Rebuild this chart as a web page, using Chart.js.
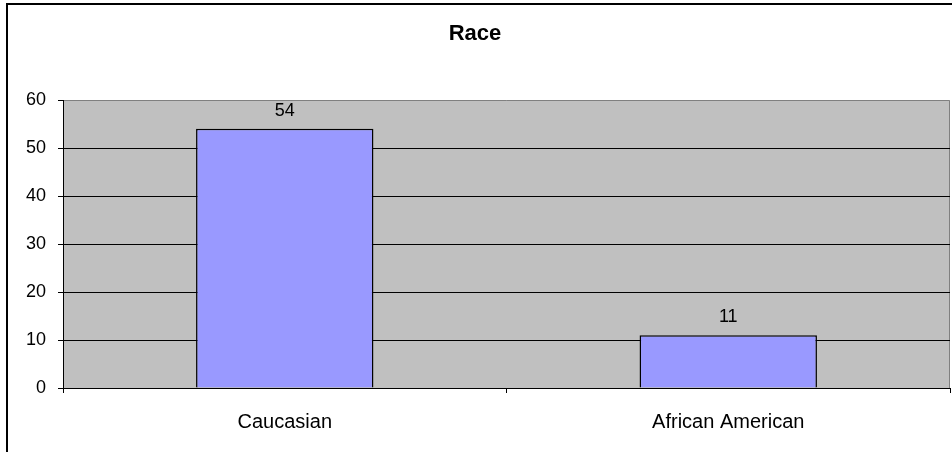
<!DOCTYPE html>
<html lang="en">

<head>
    <meta charset="UTF-8">
    <title>Race</title>
    <script src="https://cdn.jsdelivr.net/npm/chart.js"></script>
    <style>
        body {
            margin: 0;
            background: #fff;
        }
    </style>
</head>

<body>
    <canvas id="raceChart" width="952" height="452"></canvas>

    <script>
        // chart data
        const categories = ['Caucasian', 'African American'];
        const counts = [54, 11];
        const yTicks = [0, 10, 20, 30, 40, 50, 60];

        const fontFamily = '"Liberation Sans", Arial, sans-serif';

        // grey plot background, outer frame and value labels
        const excelLook = {
            id: 'excelLook',
            beforeDraw(chart) {
                const { ctx, chartArea: a } = chart;
                ctx.save();
                ctx.fillStyle = '#fff';
                ctx.fillRect(0, 0, chart.width, chart.height);
                ctx.strokeStyle = '#000';
                ctx.lineWidth = 2;
                ctx.strokeRect(7, 4, chart.width + 20, chart.height + 20);
                ctx.fillStyle = '#c0c0c0';
                ctx.fillRect(a.left, a.top, a.right - a.left, a.bottom - a.top);
                ctx.strokeStyle = '#808080';
                ctx.lineWidth = 1;
                ctx.beginPath();
                ctx.moveTo(a.left, a.top + 0.5);
                ctx.lineTo(a.right - 0.5, a.top + 0.5);
                ctx.lineTo(a.right - 0.5, a.bottom);
                ctx.stroke();
                ctx.restore();
            },
            afterDatasetsDraw(chart) {
                const { ctx } = chart;
                const meta = chart.getDatasetMeta(0);
                ctx.save();
                ctx.fillStyle = '#000';
                ctx.font = '18px ' + fontFamily;
                ctx.textAlign = 'center';
                ctx.textBaseline = 'middle';
                meta.data.forEach((bar, i) => {
                    ctx.fillText(String(counts[i]), bar.x, bar.y - 18);
                });
                ctx.restore();
            }
        };

        const ctx = document.getElementById('raceChart').getContext('2d');
        new Chart(ctx, {
            type: 'bar',
            data: {
                labels: categories,
                datasets: [{
                    data: counts,
                    backgroundColor: '#9999ff',
                    borderColor: '#000',
                    borderWidth: 1.5,
                    barPercentage: 0.4,
                    categoryPercentage: 1
                }]
            },
            options: {
                responsive: false,
                animation: false,
                layout: { padding: { left: 0, right: 2, top: 0, bottom: 0 } },
                plugins: {
                    legend: { display: false },
                    tooltip: { enabled: false },
                    title: {
                        display: true,
                        text: 'Race',
                        color: '#000',
                        font: { family: fontFamily, size: 22, weight: 'bold', lineHeight: 1.2 },
                        padding: { top: 21, bottom: 52.6 }
                    }
                },
                scales: {
                    x: {
                        grid: {
                            offset: true,
                            drawOnChartArea: false,
                            drawTicks: true,
                            tickLength: 5,
                            color: '#000'
                        },
                        border: { color: '#000', width: 1 },
                        ticks: {
                            color: '#000',
                            padding: 17,
                            font: { family: fontFamily, size: 20 }
                        },
                        afterFit(scale) { scale.height = 64; }
                    },
                    y: {
                        min: 0,
                        max: 60,
                        afterBuildTicks(scale) {
                            scale.ticks = yTicks.map(v => ({ value: v }));
                        },
                        grid: {
                            color: c => (c.tick && c.tick.value === 60) ? 'rgba(0,0,0,0)' : '#000',
                            tickColor: '#000',
                            drawTicks: true,
                            tickLength: 5
                        },
                        border: { color: '#000', width: 1 },
                        ticks: {
                            color: '#000',
                            padding: 12,
                            font: { family: fontFamily, size: 18 }
                        },
                        afterFit(scale) { scale.width = 63; }
                    }
                }
            },
            plugins: [excelLook]
        });
    </script>
</body>

</html>
